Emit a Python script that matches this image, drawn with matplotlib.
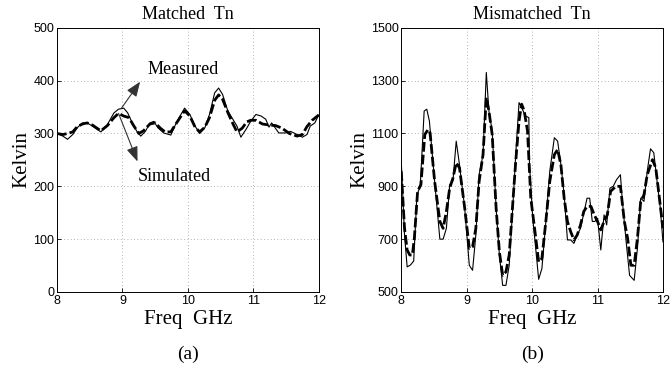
'''
Matched / Mismatched Tn 对比图 (Measured vs Simulated)
'''

import matplotlib
matplotlib.use('Agg')
import matplotlib.pyplot as plt

# ---- (a) Matched Tn ----
fa_meas = [8.0, 8.09, 8.16, 8.24, 8.31, 8.39, 8.46, 8.54, 8.67, 8.77, 8.87, 8.94, 9.02,
           9.08, 9.15, 9.22, 9.28, 9.35, 9.42, 9.48, 9.54, 9.63, 9.74, 9.80, 9.88, 9.95,
           10.03, 10.11, 10.18, 10.26, 10.33, 10.41, 10.47, 10.53, 10.61, 10.75, 10.81,
           10.89, 10.96, 11.04, 11.12, 11.19, 11.24, 11.28, 11.39, 11.49, 11.57, 11.67,
           11.75, 11.82, 11.87, 11.94, 12.0]
ka_meas = [300, 295, 289, 298, 311, 320, 320, 314, 303, 317, 339, 346, 348,
           339, 320, 304, 295, 304, 320, 323, 311, 301, 297, 314, 333, 348,
           336, 314, 300, 311, 336, 377, 386, 374, 343, 314, 293,
           308, 323, 336, 333, 327, 312, 320, 301, 301, 304, 298,
           293, 298, 314, 320, 335]

fa_sim = [8.0, 8.09, 8.16, 8.24, 8.31, 8.39, 8.46, 8.54, 8.67, 8.77, 8.87, 8.94, 9.02,
          9.10, 9.17, 9.25, 9.32, 9.42, 9.50, 9.58, 9.65, 9.74, 9.80, 9.88, 9.95,
          10.03, 10.11, 10.18, 10.26, 10.33, 10.41, 10.47, 10.53, 10.61, 10.69, 10.75,
          10.83, 10.90, 10.96, 11.04, 11.14, 11.24, 11.34, 11.44, 11.55, 11.67, 11.75,
          11.82, 11.90, 12.0]
ka_sim = [300, 298, 300, 303, 313, 318, 320, 316, 305, 315, 330, 338, 333,
          330, 315, 300, 305, 318, 320, 310, 303, 303, 315, 330, 343,
          333, 312, 303, 312, 330, 363, 373, 365, 340, 318, 303,
          310, 322, 325, 325, 318, 316, 315, 310, 300, 295, 298,
          313, 325, 335]

# ---- (b) Mismatched Tn ----
fb_meas = [8.0, 8.05, 8.09, 8.14, 8.19, 8.24, 8.29, 8.35, 8.39, 8.43, 8.51, 8.59, 8.64,
           8.69, 8.74, 8.79, 8.84, 8.89, 8.97, 9.04, 9.09, 9.14, 9.19, 9.25, 9.30, 9.34,
           9.39, 9.45, 9.50, 9.55, 9.60, 9.65, 9.71, 9.75, 9.80, 9.85, 9.90, 9.95, 9.96,
           10.01, 10.06, 10.10, 10.15, 10.21, 10.27, 10.34, 10.39, 10.44, 10.49, 10.54,
           10.59, 10.64, 10.69, 10.74, 10.79, 10.84, 10.88, 10.92, 10.96, 11.0, 11.05,
           11.10, 11.14, 11.19, 11.24, 11.29, 11.35, 11.38, 11.44, 11.49, 11.56, 11.61,
           11.66, 11.71, 11.76, 11.81, 11.86, 11.91, 11.96, 12.0]
kb_meas = [995, 716, 595, 602, 617, 868, 900, 1185, 1192, 1147, 919, 700, 700,
           741, 906, 921, 1071, 982, 817, 601, 582, 716, 944, 1020, 1331, 1185,
           1109, 817, 640, 525, 525, 601, 843, 1020, 1217, 1192, 1166, 1160, 982,
           779, 652, 548, 589, 767, 957, 1084, 1071, 982, 868, 697,
           697, 684, 716, 741, 798, 855, 855, 767, 767, 779, 659,
           792, 754, 893, 900, 925, 944, 843, 684, 563, 544, 665,
           855, 843, 957, 1042, 1027, 919, 817, 690]

fb_sim = [8.0, 8.05, 8.09, 8.13, 8.17, 8.20, 8.25, 8.30, 8.36, 8.41, 8.44, 8.51, 8.59,
          8.64, 8.69, 8.74, 8.79, 8.84, 8.89, 8.97, 9.04, 9.09, 9.14, 9.19, 9.25,
          9.30, 9.34, 9.39, 9.45, 9.50, 9.55, 9.60, 9.65, 9.71, 9.75, 9.80, 9.84, 9.88,
          9.93, 9.98, 10.05, 10.10, 10.15, 10.21, 10.27, 10.34, 10.39, 10.44, 10.49,
          10.54, 10.59, 10.64, 10.69, 10.74, 10.79, 10.84, 10.90, 10.95, 11.0, 11.05,
          11.10, 11.15, 11.20, 11.28, 11.35, 11.41, 11.46, 11.51, 11.56, 11.61, 11.66,
          11.71, 11.76, 11.84, 11.89, 11.94, 12.0]
kb_sim = [957, 741, 659, 640, 640, 703, 881, 906, 1096, 1115, 1103, 919, 767,
          741, 805, 893, 931, 989, 970, 817, 665, 671, 741, 919, 1020,
          1236, 1185, 1096, 817, 652, 563, 576, 640, 855, 995, 1147, 1211, 1185,
          1109, 855, 716, 614, 627, 767, 919, 1020, 1039, 982, 855,
          767, 728, 697, 716, 754, 805, 824, 824, 792, 767, 735,
          767, 792, 881, 900, 900, 767, 703, 601, 601, 703, 843,
          868, 944, 1001, 970, 868, 741]

serif = 'Liberation Serif'
sans = 'Liberation Sans'


def setupAxes(ax, ylim, yticks, title, sub):  # MATLAB 风格坐标轴
    ax.set_xlim(8, 12)
    ax.set_ylim(*ylim)
    ax.set_xticks([8, 9, 10, 11, 12])
    ax.set_yticks(yticks)
    ax.tick_params(direction='in', length=3, width=0.6, labelsize=9, pad=2)
    for lab in ax.get_xticklabels() + ax.get_yticklabels():
        lab.set_family(sans)
    ax.grid(True, ls=(0, (1, 3)), color='#999999', lw=0.6)
    for s in ax.spines.values():
        s.set_linewidth(0.7)
    ax.set_title(title, family=serif, fontsize=13, pad=6)
    ax.set_xlabel('Freq  GHz', family=serif, fontsize=15, labelpad=2)
    ax.set_ylabel('Kelvin', family=serif, fontsize=15, labelpad=1)
    ax.text(0.5, -0.235, sub, transform=ax.transAxes, ha='center', va='center',
            family=serif, fontsize=14)


fig = plt.figure(figsize=(6.71, 3.71), dpi=100)
ax1 = fig.add_axes([0.085, 0.213, 0.39, 0.712])
ax2 = fig.add_axes([0.598, 0.213, 0.39, 0.712])

dash = (0, (3.5, 1.1))

ax1.plot(fa_meas, ka_meas, color='k', lw=0.8)
ax1.plot(fa_sim, ka_sim, color='k', lw=2.0, ls=dash)
setupAxes(ax1, (0, 500), [0, 100, 200, 300, 400, 500], 'Matched  Tn', '(a)')

arrow = dict(arrowstyle='-|>,head_length=0.9,head_width=0.35', color='#333333', lw=0.8,
             shrinkA=0, shrinkB=0)
ax1.annotate('', xy=(9.27, 398), xytext=(8.98, 347), arrowprops=arrow, zorder=5)
ax1.annotate('', xy=(9.23, 247), xytext=(8.94, 338), arrowprops=arrow, zorder=5)
ax1.text(9.92, 421, 'Measured', family=serif, fontsize=13, ha='center', va='center')
ax1.text(9.8, 219, 'Simulated', family=serif, fontsize=13, ha='center', va='center')

ax2.plot(fb_meas, kb_meas, color='k', lw=0.8)
ax2.plot(fb_sim, kb_sim, color='k', lw=2.0, ls=dash)
setupAxes(ax2, (500, 1500), [500, 700, 900, 1100, 1300, 1500], 'Mismatched  Tn', '(b)')

fig.savefig('out.png', dpi=100)
